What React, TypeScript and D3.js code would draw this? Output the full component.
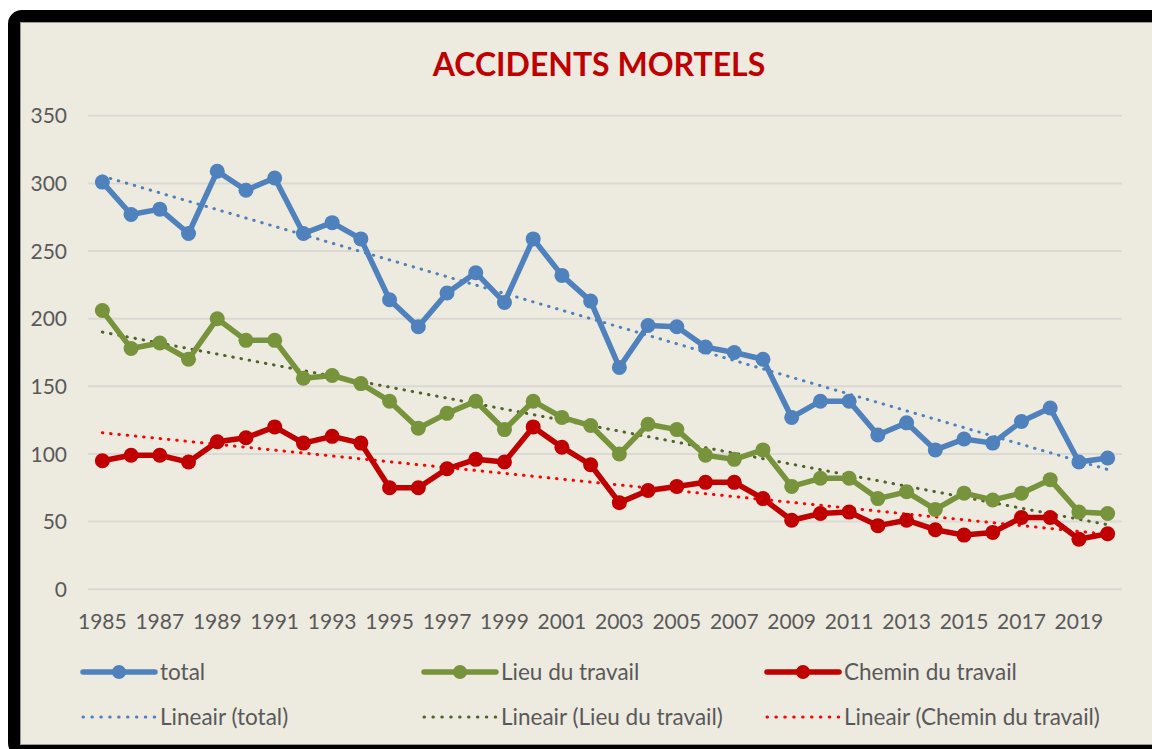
import React from 'react';
import * as d3 from 'd3';

// years on the x axis
const years: number[] = d3.range(1985, 2021);

// values
const total: number[] = [
  301, 277, 281, 263, 309, 295, 304, 263, 271, 259, 214, 194,
  219, 234, 212, 259, 232, 213, 164, 195, 194, 179, 175, 170,
  127, 139, 139, 114, 123, 103, 111, 108, 124, 134, 94, 97
];
const lieu: number[] = [
  206, 178, 182, 170, 200, 184, 184, 156, 158, 152, 139, 119,
  130, 139, 118, 139, 127, 121, 100, 122, 118, 99, 96, 103,
  76, 82, 82, 67, 72, 59, 71, 66, 71, 81, 57, 56
];
const chemin: number[] = [
  95, 99, 99, 94, 109, 112, 120, 108, 113, 108, 75, 75,
  89, 96, 94, 120, 105, 92, 64, 73, 76, 79, 79, 67,
  51, 56, 57, 47, 51, 44, 40, 42, 53, 53, 37, 41
];
const yTicks: number[] = [0, 50, 100, 150, 200, 250, 300, 350];
const xTickYears: number[] = years.filter((_, i) => i % 2 === 0);

const W = 1152;
const H = 749;
const FONT = 'Lato, "Noto Sans", sans-serif';

const series = [
  { name: 'total', values: total, color: '#4F81BD', trend: '#4F81BD' },
  { name: 'Lieu du travail', values: lieu, color: '#77933C', trend: '#4F6228' },
  { name: 'Chemin du travail', values: chemin, color: '#C00000', trend: '#FF0000' }
];

// least-squares fit, like the Excel trendline
function linearFit(vals: number[]) {
  const xs = vals.map((_, i) => i + 1);
  const mx = d3.mean(xs) as number;
  const my = d3.mean(vals) as number;
  const sxy = d3.sum(xs, (x, i) => (x - mx) * (vals[i] - my));
  const sxx = d3.sum(xs, x => (x - mx) ** 2);
  const b = sxy / sxx;
  const a = my - b * mx;
  return (i: number) => a + b * (i + 1);
}

export default function App() {
  const x = d3.scaleBand<number>()
    .domain(years)
    .range([88, 1122]);
  const cx = (yr: number) => (x(yr) as number) + x.bandwidth() / 2;

  const y = d3.scaleLinear()
    .domain([0, 350])
    .range([589.2, 115.8]);

  const line = d3.line<number>()
    .x((_, i) => cx(years[i]))
    .y(d => y(d));

  const first = years[0];
  const last = years[years.length - 1];

  const legendCols = [83, 424, 767];

  return (
    <svg
      width={W}
      height={H}
      style={{ position: 'absolute', left: 0, top: 0, background: '#fff' }}
    >
      {/* frame */}
      <rect x={14} y={16} width={1160} height={735} rx={8} ry={8}
        fill="#EDEADF" stroke="#000" strokeWidth={12} />
      <rect x={20.5} y={22.5} width={1150} height={722}
        fill="none" stroke="#9a9a94" strokeWidth={1} />

      {/* title */}
      <text x={599} y={76} textAnchor="middle" fill="#C00000"
        fontFamily={FONT} fontWeight={700} fontSize={32}>
        ACCIDENTS MORTELS
      </text>

      {/* gridlines + y labels */}
      {yTicks.map(t => (
        <g key={t}>
          <line x1={88} x2={1122} y1={y(t)} y2={y(t)}
            stroke="#DBD9D4" strokeWidth={2} />
          <text x={67} y={y(t)} dy="0.36em" textAnchor="end"
            fill="#595959" fontFamily={FONT} fontSize={21}>
            {t}
          </text>
        </g>
      ))}

      {/* x labels */}
      {xTickYears.map(yr => (
        <text key={yr} x={cx(yr)} y={629} textAnchor="middle"
          fill="#595959" fontFamily={FONT} fontSize={21}>
          {yr}
        </text>
      ))}

      {/* trendlines */}
      {series.map(s => {
        const f = linearFit(s.values);
        return (
          <line key={'t' + s.name}
            x1={cx(first)} y1={y(f(0))}
            x2={cx(last)} y2={y(f(years.length - 1))}
            stroke={s.trend} strokeWidth={3} strokeLinecap="round"
            strokeDasharray="0.5 7.8" />
        );
      })}

      {/* series lines and markers */}
      {series.map(s => (
        <g key={s.name}>
          <path d={line(s.values) as string} fill="none" stroke={s.color}
            strokeWidth={5.5} strokeLinejoin="round" />
          {s.values.map((v, i) => (
            <circle key={i} cx={cx(years[i])} cy={y(v)} r={7.5} fill={s.color} />
          ))}
        </g>
      ))}

      {/* legend */}
      {series.map((s, k) => {
        const lx = legendCols[k];
        return (
          <g key={'lg' + s.name}>
            <line x1={lx} x2={lx + 72} y1={672} y2={672} stroke={s.color}
              strokeWidth={5.5} strokeLinecap="round" />
            <circle cx={lx + 36} cy={672} r={7} fill={s.color} />
            <text x={lx + 77} y={672} dy="0.36em" fill="#595959"
              fontFamily={FONT} fontSize={22.5}>
              {s.name}
            </text>
            <line x1={lx} x2={lx + 72} y1={717} y2={717} stroke={s.trend}
              strokeWidth={3} strokeLinecap="round" strokeDasharray="0.5 8.4" />
            <text x={lx + 77} y={717} dy="0.36em" fill="#595959"
              fontFamily={FONT} fontSize={22.5}>
              {'Lineair (' + s.name + ')'}
            </text>
          </g>
        );
      })}
    </svg>
  );
}
